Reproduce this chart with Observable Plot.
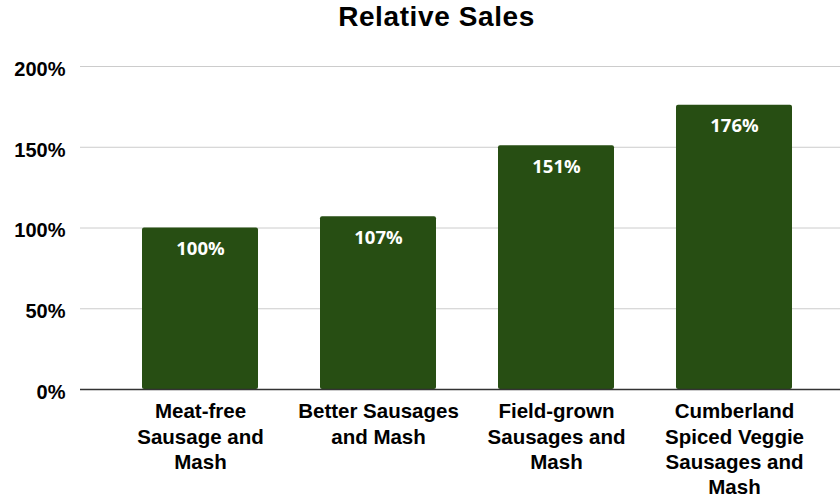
<!DOCTYPE html>
<html>
<head>
<meta charset="utf-8">
<script src="https://cdn.jsdelivr.net/npm/d3@7"></script>
<script src="https://cdn.jsdelivr.net/npm/@observablehq/plot@0.6"></script>
<style>
  html, body { margin: 0; padding: 0; background: #fff; }
  #title {
    width: 840px; height: 40px; box-sizing: border-box;
    padding-top: 1px; padding-left: 33px; text-align: center;
    font: bold 28px/32px "Liberation Sans", Arial, sans-serif; letter-spacing: 0.6px; color: #000;
  }
</style>
</head>
<body>
<div id="title">Relative Sales</div>
<div id="chart"></div>
<script>
const categories = [
  "Meat-free Sausage and Mash",
  "Better Sausages and Mash",
  "Field-grown Sausages and Mash",
  "Cumberland Spiced Veggie Sausages and Mash"
];
const tickLabels = [
  "Meat-free\nSausage and\nMash",
  "Better Sausages\nand Mash",
  "Field-grown\nSausages and\nMash",
  "Cumberland\nSpiced Veggie\nSausages and\nMash"
];
const values = [100, 107, 151, 176];
const yTicks = [0, 50, 100, 150, 200];

const data = categories.map((c, i) => ({category: c, value: values[i]}));
const labelOf = new Map(categories.map((c, i) => [c, tickLabels[i]]));

const chart = Plot.plot({
  width: 840,
  height: 457,
  marginLeft: 80,
  marginRight: 0,
  marginTop: 26,
  marginBottom: 108,
  style: {fontFamily: "'Liberation Sans', Arial, sans-serif", background: "#fff"},
  x: {domain: categories, paddingInner: 0.35, paddingOuter: 0.175, insetLeft: 30.5, insetRight: 16, label: null},
  y: {domain: [0, 200], label: null},
  marks: [
    Plot.ruleY(yTicks, {y: d => d, stroke: "#cccccc", strokeWidth: 1}),
    Plot.barY(data, {x: "category", y: "value", fill: "#274e13", rx: 2}),
    Plot.ruleY([0], {stroke: "#333333", strokeWidth: 1.5}),
    Plot.text(data, {
      x: "category", y: "value", text: d => d.value + "%",
      dy: 21, fill: "#ffffff", fontSize: 18.5, fontWeight: "bold",
      fontFamily: "'Open Sans', sans-serif"
    }),
    Plot.axisY(yTicks, {
      tickSize: 0, tickPadding: 15, fontSize: 20, fontWeight: "bold",
      fill: "#000", dy: 3, tickFormat: d => d + "%", label: null
    }),
    Plot.axisX({
      tickSize: 0, tickPadding: 11, fontSize: 20.5, fontWeight: "bold",
      fill: "#000", lineHeight: 1.23, tickFormat: d => labelOf.get(d), label: null
    })
  ]
});
document.getElementById("chart").appendChild(chart);
</script>
</body>
</html>
